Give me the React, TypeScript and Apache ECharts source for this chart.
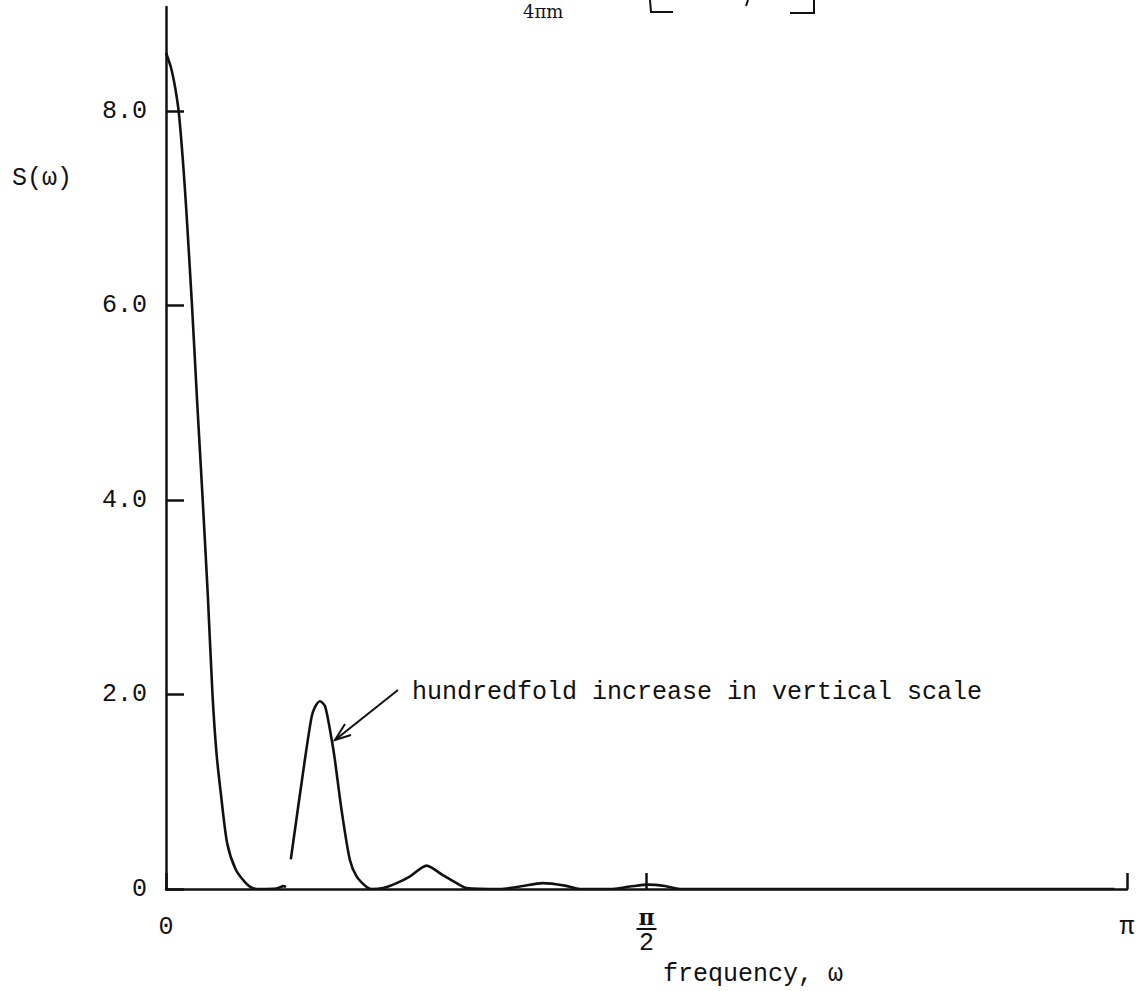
import React, { useEffect, useRef } from 'react';
import * as echarts from 'echarts';

// actual-scale spectral window (omega, S)
const mainLobe: [number, number][] = [
  [0, 8.6], [0.016, 8.45], [0.03, 8.24], [0.042, 7.98], [0.055, 7.5], [0.066, 7.0], [0.085, 6.0],
  [0.102, 5.0], [0.12, 4.0], [0.137, 3.0], [0.152, 2.0], [0.165, 1.4], [0.179, 0.99], [0.2, 0.47],
  [0.228, 0.2], [0.261, 0.06], [0.282, 0.01], [0.31, 0.0], [0.36, 0.005], [0.385, 0.03], [0.392, 0.02],
];

// side lobes drawn at a hundredfold vertical scale
const magnified: [number, number][] = [
  [0.408, 0.305], [0.454, 1.33], [0.476, 1.77], [0.487, 1.87], [0.503, 1.93], [0.52, 1.88],
  [0.542, 1.53], [0.552, 1.33], [0.574, 0.81], [0.601, 0.3], [0.623, 0.13], [0.656, 0.02],
  [0.672, 0.0], [0.71, 0.01], [0.754, 0.06], [0.798, 0.13], [0.852, 0.24], [0.906, 0.14],
  [0.95, 0.06], [0.983, 0.01], [1.092, 0.0], [1.157, 0.025], [1.232, 0.06], [1.304, 0.035],
  [1.353, 0.0], [1.451, 0.0], [1.517, 0.025], [1.576, 0.045], [1.631, 0.03], [1.68, 0.0],
  [1.9, 0.0], [2.3, 0.0], [2.7, 0.0], [3.1, 0.0],
];

const yTicks = [0, 2, 4, 6, 8];
const yTickLabels = ['0', '2.0', '4.0', '6.0', '8.0'];
const xTicks = [0, Math.PI / 2, Math.PI];
const xTickLabels = ['0', 'π/2', 'π'];
const yName = 'S(ω)';
const xName = 'frequency, ω';
const note = 'hundredfold increase in vertical scale';
const formulaPart = '4πm';

const INK = '#111';
const MONO = '"Liberation Mono", "DejaVu Sans Mono", monospace';
const SERIF = '"DejaVu Serif", "Liberation Serif", serif';

export default function App() {
  const ref = useRef<HTMLDivElement>(null);
  useEffect(() => {
    if (!ref.current) return;
    const chart = echarts.init(ref.current, null, { renderer: 'svg' });
    const lineSeries = (data: [number, number][]) => ({
      type: 'line',
      data,
      showSymbol: false,
      smooth: 0.25,
      lineStyle: { color: INK, width: 2.6 },
      z: 3,
    });
    chart.setOption({
      animation: false,
      backgroundColor: '#fff',
      grid: { left: 166, right: 16, top: 7, bottom: 102, outerBoundsMode: 'none' },
      xAxis: {
        type: 'value',
        min: 0,
        max: Math.PI,
        axisLine: { lineStyle: { color: INK, width: 2.5 } },
        axisTick: { inside: true, length: 16, customValues: xTicks, lineStyle: { color: INK, width: 2.5 } },
        splitLine: { show: false },
        axisLabel: {
          customValues: xTicks,
          margin: 18,
          color: INK,
          fontFamily: MONO,
          fontSize: 25,
          formatter: (v: number) => {
            const i = xTicks.findIndex((t) => Math.abs(t - v) < 1e-6);
            const s = i >= 0 ? xTickLabels[i] : '';
            if (s.includes('/')) {
              const [n, d] = s.split('/');
              return `{n|${n}}\n{bar|}\n{d|${d}}`;
            }
            return `{s|${s}}`;
          },
          rich: {
            s: { fontSize: 25, fontFamily: MONO, color: INK, padding: [8, 0, 0, 0] },
            n: { fontSize: 22, fontFamily: SERIF, fontWeight: 'bold', color: INK, lineHeight: 20, align: 'center' },
            bar: { width: 20, height: 2, backgroundColor: INK, lineHeight: 4, align: 'center' },
            d: { fontSize: 25, fontFamily: MONO, color: INK, lineHeight: 24, align: 'center' },
          },
        },
      },
      yAxis: {
        type: 'value',
        min: 0,
        max: 9.07,
        axisLine: { show: true, lineStyle: { color: INK, width: 2.5 } },
        axisTick: { show: true, inside: true, length: 18, customValues: yTicks, lineStyle: { color: INK, width: 2.5 } },
        splitLine: { show: false },
        axisLabel: {
          customValues: yTicks,
          margin: 19,
          color: INK,
          fontFamily: MONO,
          fontSize: 25,
          formatter: (v: number) => {
            const i = yTicks.findIndex((t) => Math.abs(t - v) < 1e-6);
            return i >= 0 ? yTickLabels[i] : '';
          },
        },
      },
      series: [lineSeries(mainLobe), lineSeries(magnified)],
      graphic: [
        { type: 'text', left: 12, top: 166, style: { text: yName, font: `25px ${MONO}`, fill: INK } },
        { type: 'text', left: 663, top: 962, style: { text: xName, font: `25px ${MONO}`, fill: INK } },
        { type: 'text', left: 412, top: 680, style: { text: note, font: `25px ${MONO}`, fill: INK } },
        { type: 'line', shape: { x1: 398, y1: 690, x2: 335, y2: 740 }, style: { stroke: INK, lineWidth: 2 } },
        { type: 'polyline', shape: { points: [[345, 724], [335, 740], [351, 735]] }, style: { stroke: INK, lineWidth: 2, fill: null } },
        { type: 'text', left: 523, top: 2, style: { text: formulaPart, font: `18px ${SERIF}`, fill: INK } },
        { type: 'polyline', shape: { points: [[650, 0], [651, 12], [673, 12]] }, style: { stroke: INK, lineWidth: 2, fill: null } },
        { type: 'line', shape: { x1: 748, y1: 0, x2: 746, y2: 6 }, style: { stroke: INK, lineWidth: 2 } },
        { type: 'polyline', shape: { points: [[790, 13], [814, 13], [814, 0]] }, style: { stroke: INK, lineWidth: 2, fill: null } },
      ],
    });
    return () => chart.dispose();
  }, []);
  return <div ref={ref} style={{ position: 'absolute', left: 0, top: 0, width: 1143, height: 991 }} />;
}
